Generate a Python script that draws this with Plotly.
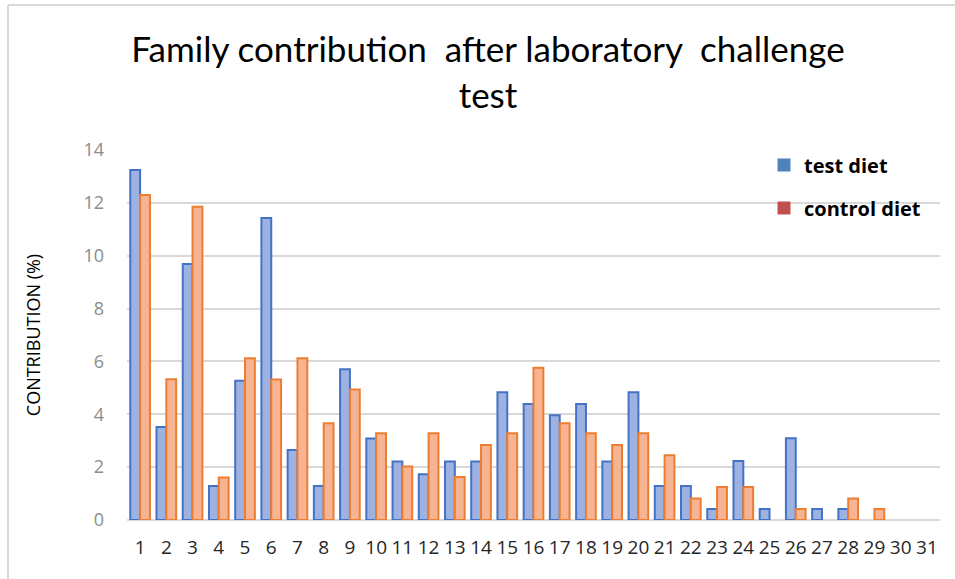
import plotly.graph_objects as go

families = [str(i) for i in range(1, 32)]
test_diet = [13.24, 3.52, 9.69, 1.29, 5.27, 11.43, 2.65, 1.29, 5.70, 3.08,
             2.21, 1.73, 2.21, 2.21, 4.83, 4.39, 3.96, 4.39, 2.21, 4.83,
             1.29, 1.29, 0.42, 2.23, 0.42, 3.09, 0.42, 0.42, 0, 0, 0]
control_diet = [12.30, 5.33, 11.85, 1.61, 6.12, 5.32, 6.12, 3.66, 4.94, 3.28,
                2.02, 3.28, 1.63, 2.84, 3.28, 5.76, 3.66, 3.28, 2.84, 3.28,
                2.45, 0.81, 1.25, 1.25, 0, 0.42, 0, 0.81, 0.42, 0, 0]
y_ticks = [0, 2, 4, 6, 8, 10, 12, 14]

W, H = 955, 579
L, R, T, B = 127, 15, 150, 59
pw, ph = W - L - R, H - T - B

def px(x):
    return (x - L) / pw

def py(y):
    return (H - B - y) / ph

def outline(vals):
    return [2 if v > 0 else 0 for v in vals]

fig = go.Figure()
fig.add_trace(go.Bar(
    x=families, y=test_diet, name="test diet", showlegend=False,
    marker=dict(color="#9DB2E1", line=dict(color="#4472C4", width=outline(test_diet))),
))
fig.add_trace(go.Bar(
    x=families, y=control_diet, name="control diet", showlegend=False,
    marker=dict(color="#F7B492", line=dict(color="#ED7D31", width=outline(control_diet))),
))
# legend entries (legend swatches are blue and red in the original)
fig.add_trace(go.Scatter(
    x=[None], y=[None], mode="markers", name="test diet", legend="legend",
    marker=dict(symbol="square", size=13, color="#4F81BD"),
))
fig.add_trace(go.Scatter(
    x=[None], y=[None], mode="markers", name="control diet", legend="legend2",
    marker=dict(symbol="square", size=13, color="#C0504D"),
))

FONT = "Open Sans, sans-serif"
legend_font = dict(family=FONT, size=20, color="#000000", weight="bold")
fig.update_layout(
    width=W, height=H,
    margin=dict(l=L, r=R, t=T, b=B),
    paper_bgcolor="white", plot_bgcolor="white",
    barmode="group", bargap=0.25, bargroupgap=0,
    title=dict(
        text="Family contribution  after laboratory  challenge<br>test",
        x=488 / W, xanchor="center", xref="container",
        y=1 - 62 / H, yanchor="top", yref="container",
        font=dict(family="Lato, Open Sans, sans-serif", size=35, color="#000000"),
    ),
    legend=dict(x=px(764), y=py(165), xanchor="left", yanchor="middle",
                font=legend_font, bgcolor="rgba(0,0,0,0)", itemwidth=30),
    legend2=dict(x=px(764), y=py(208), xanchor="left", yanchor="middle",
                 font=legend_font, bgcolor="rgba(0,0,0,0)", itemwidth=30),
    xaxis=dict(
        type="category", tickfont=dict(family=FONT, size=19, color="#262626"),
        tickangle=0, showgrid=False, showline=False, ticks="", ticklabelstandoff=14,
    ),
    yaxis=dict(
        range=[0, 14], tickvals=y_ticks,
        tickfont=dict(family=FONT, size=18, color="#8C8C8C"),
        showgrid=True, gridcolor="#D9D9D9", gridwidth=2,
        zeroline=True, zerolinecolor="#D9D9D9", zerolinewidth=2,
        showline=False, ticks="", ticklabelstandoff=22,
        title=dict(text="CONTRIBUTION (%)", standoff=38,
                   font=dict(family=FONT, size=18, color="#000000")),
    ),
    shapes=[
        dict(type="line", xref="paper", yref="paper", x0=px(8), x1=px(8), y0=py(5), y1=py(H),
             line=dict(color="#D9D9D9", width=2)),
        dict(type="line", xref="paper", yref="paper", x0=px(8), x1=px(W), y0=py(5), y1=py(5),
             line=dict(color="#D9D9D9", width=2)),
    ],
)

fig.write_html("out.html", config={"displayModeBar": False},
               post_script="document.body.style.margin='0';")
